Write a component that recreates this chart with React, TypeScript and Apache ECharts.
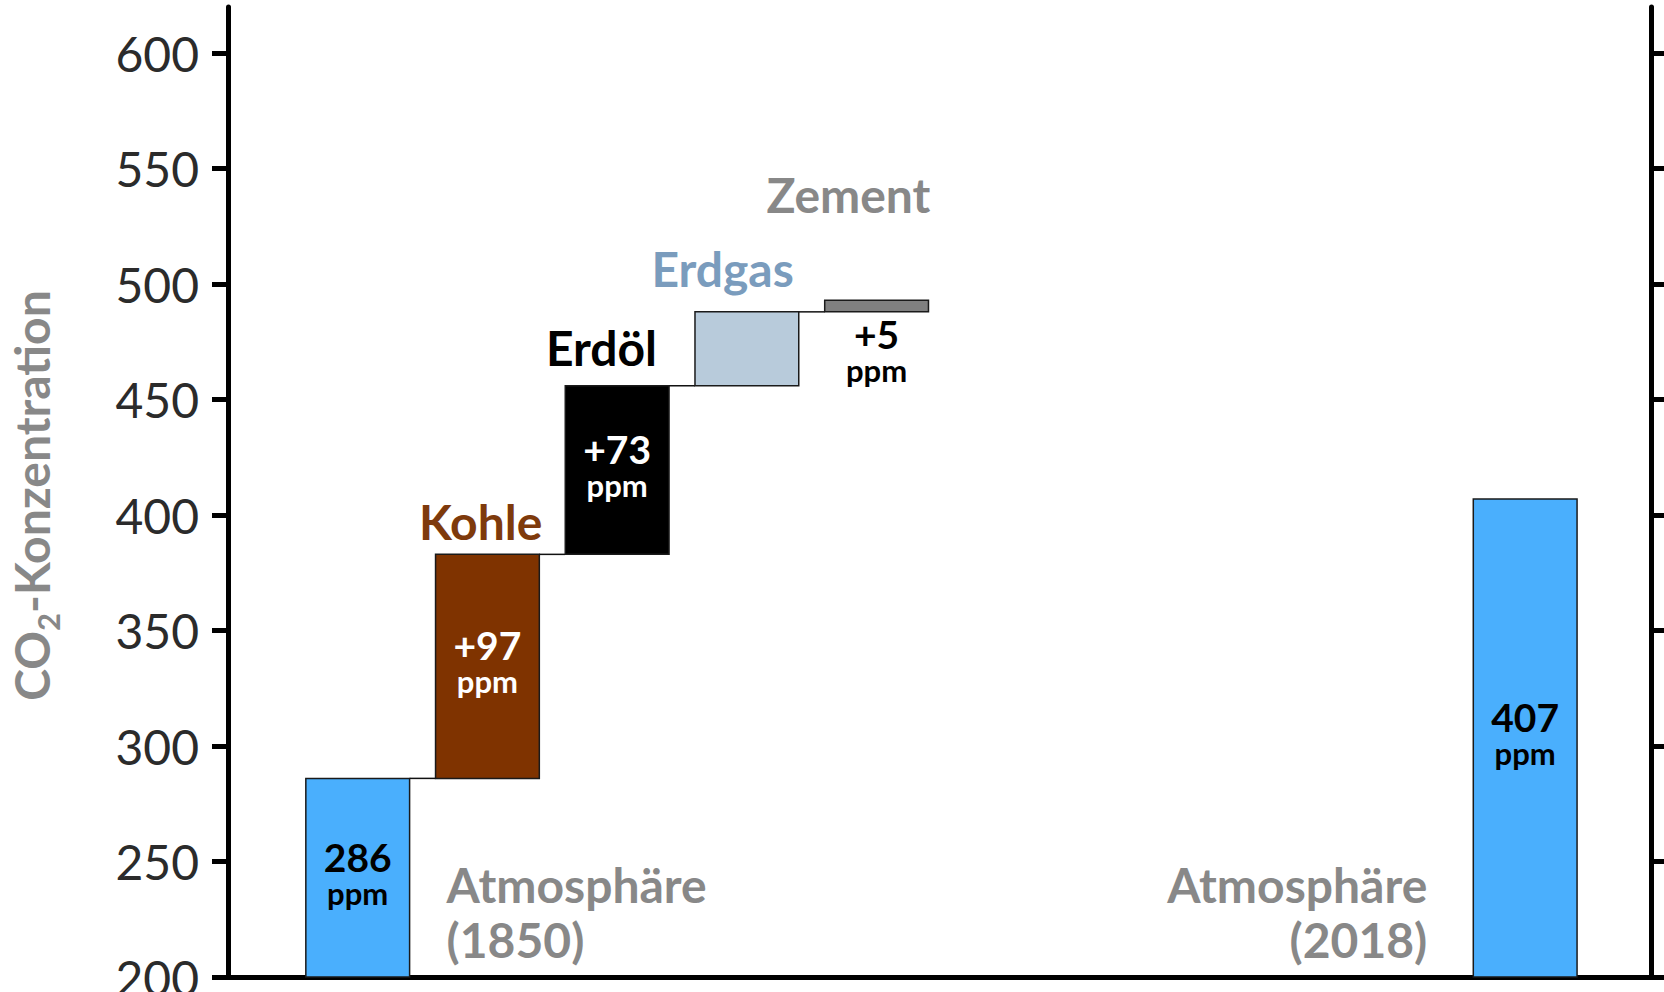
import React, { useEffect, useRef } from "react";
import * as echarts from "echarts";

// ---------- data ----------
const categoryNames = ["Atmosphäre\n(1850)", "Kohle", "Erdöl", "Erdgas", "Zement", "Atmosphäre\n(2018)"];
const xPositions = [1, 2, 3, 4, 5, 10];
const kinds = ["total", "delta", "delta", "delta", "delta", "total"];
const values = [286, 97, 73, 32, 5, 407];
const valueLabels = ["286", "+97", "+73", "", "+5", "407"];
const unitLabel = "ppm";
const yTicks = [200, 250, 300, 350, 400, 450, 500, 550, 600];
const yAxisNameMain = "CO";
const yAxisNameSub = "2";
const yAxisNameRest = "-Konzentration";

// ---------- scale / style ----------
const Y_MIN = 200;
const Y_MAX = 620;
const X_MIN = 0;
const X_MAX = 10.97;
const BAR_HALF = 0.4;
const FONT = "Lato";
const BIG = 48;

const barColors = ["#4aaffd", "#7f3300", "#000000", "#b8cbdb", "#808080", "#4aaffd"];
const nameColors = ["#888888", "#7e3a0c", "#000000", "#7a9cbd", "#888888", "#888888"];
const valueColors = ["#000000", "#ffffff", "#ffffff", "#000000", "#000000", "#000000"];
const valuePlacement = ["inside", "inside", "inside", "inside", "below", "inside"];
// name placement: anchor side, horizontal offset (px), vertical offset (px)
const nameLayout = [
  { side: "rightOfBar", dx: 37, dy: -10 },
  { side: "aboveBar", dx: 3, dy: -10 },
  { side: "aboveBar", dx: -12, dy: -16 },
  { side: "aboveBar", dx: -5, dy: -21 },
  { side: "aboveBar", dx: 2, dy: -83 },
  { side: "leftOfBar", dx: -46, dy: -10 },
];

function buildBars() {
  let running = 0;
  return values.map((v, i) => {
    let lo: number;
    let hi: number;
    if (kinds[i] === "total") {
      lo = Y_MIN;
      hi = v;
      running = v;
    } else {
      lo = running;
      hi = running + v;
      running = hi;
    }
    return [xPositions[i], lo, hi, i];
  });
}

export default function App() {
  const ref = useRef<HTMLDivElement>(null);

  useEffect(() => {
    if (!ref.current) return;
    const chart = echarts.init(ref.current, undefined, { renderer: "svg" });
    const bars = buildBars();

    const renderItem = (params: any, api: any) => {
      const i = api.value(3);
      const x = api.value(0);
      const lo = api.value(1);
      const hi = api.value(2);
      const tl = api.coord([x - BAR_HALF, hi]);
      const br = api.coord([x + BAR_HALF, lo]);
      const base = api.coord([x, Y_MIN]);
      const children: any[] = [];

      if (kinds[i] === "delta" && i > 0) {
        const a = api.coord([xPositions[i - 1] + BAR_HALF, lo]);
        const b = api.coord([x - BAR_HALF, lo]);
        children.push({
          type: "line",
          shape: { x1: a[0], y1: a[1], x2: b[0], y2: b[1] },
          style: { stroke: "#111111", lineWidth: 1.5 },
        });
      }

      children.push({
        type: "rect",
        shape: { x: tl[0], y: tl[1], width: br[0] - tl[0], height: br[1] - tl[1] },
        style: { fill: barColors[i], stroke: "#1a1a1a", lineWidth: 1.5 },
      });

      if (valueLabels[i]) {
        const c = valueColors[i];
        const cx = (tl[0] + br[0]) / 2;
        const inside = valuePlacement[i] === "inside";
        children.push({
          type: "text",
          style: {
            text: `{v|${valueLabels[i]}}\n{u|${unitLabel}}`,
            x: cx,
            y: inside ? (tl[1] + br[1]) / 2 - 4 : br[1] + 3,
            align: "center",
            verticalAlign: inside ? "middle" : "top",
            rich: {
              v: { fontSize: 39, fontWeight: "bold", fontFamily: FONT, fill: c, lineHeight: 38, align: "center" },
              u: { fontSize: 31, fontWeight: "bold", fontFamily: FONT, fill: c, lineHeight: 34, align: "center" },
            },
          },
        });
      }

      const nl = nameLayout[i];
      let nx = 0;
      let ny = 0;
      let align = "center";
      if (nl.side === "aboveBar") {
        nx = br[0] + nl.dx;
        ny = tl[1] + nl.dy + 5;
        align = "right";
      } else if (nl.side === "rightOfBar") {
        nx = br[0] + nl.dx;
        ny = base[1] + nl.dy;
        align = "left";
      } else {
        nx = tl[0] + nl.dx;
        ny = base[1] + nl.dy;
        align = "right";
      }
      children.push({
        type: "text",
        style: {
          text: categoryNames[i],
          x: nx,
          y: ny,
          align,
          verticalAlign: "bottom",
          fill: nameColors[i],
          fontSize: BIG,
          fontWeight: "bold",
          fontFamily: FONT,
          lineHeight: 55,
        },
      });

      return { type: "group", children };
    };

    const yAxisCommon = {
      type: "value",
      min: Y_MIN,
      max: Y_MAX,
      interval: 50,
      splitLine: { show: false },
      axisLine: { show: true, lineStyle: { color: "#000000", width: 5 } },
      axisTick: {
        show: true,
        inside: false,
        length: 16,
        lineStyle: { color: "#000000", width: 5 },
        customValues: yTicks,
      },
    };

    chart.setOption({
      animation: false,
      backgroundColor: "#ffffff",
      grid: { left: 228, right: 13, top: 7, bottom: 15, containLabel: false, outerBoundsMode: "none" },
      xAxis: {
        type: "value",
        min: X_MIN,
        max: X_MAX,
        axisLine: { show: true, onZero: false, lineStyle: { color: "#000000", width: 5 } },
        axisTick: { show: false },
        axisLabel: { show: false },
        splitLine: { show: false },
      },
      yAxis: [
        {
          ...yAxisCommon,
          position: "left",
          name: `{m|${yAxisNameMain}}{s|${yAxisNameSub}}{m|${yAxisNameRest}}`,
          nameLocation: "middle",
          nameRotate: 90,
          nameGap: 165,
          nameTextStyle: {
            fontFamily: FONT,
            fontWeight: "bold",
            fontSize: BIG,
            color: "#888888",
            padding: [0, 7, 0, 0],
            rich: {
              m: { fontFamily: FONT, fontWeight: "bold", fontSize: BIG, color: "#888888", lineHeight: 64 },
              s: { fontFamily: FONT, fontWeight: "bold", fontSize: 31, color: "#888888", lineHeight: 28, verticalAlign: "bottom" },
            },
          },
          axisLabel: {
            show: true,
            margin: 29,
            fontFamily: FONT,
            fontSize: BIG,
            color: "#2b2b2b",
            customValues: yTicks,
          },
        },
        {
          ...yAxisCommon,
          position: "right",
          axisLabel: { show: false },
        },
      ],
      series: [
        {
          type: "custom",
          renderItem,
          data: bars,
          clip: false,
          encode: { x: 0, y: [1, 2] },
        },
      ],
    });

    return () => chart.dispose();
  }, []);

  return (
    <div
      ref={ref}
      style={{ position: "fixed", left: 0, top: 0, width: "1664px", height: "992px", background: "#fff" }}
    />
  );
}
